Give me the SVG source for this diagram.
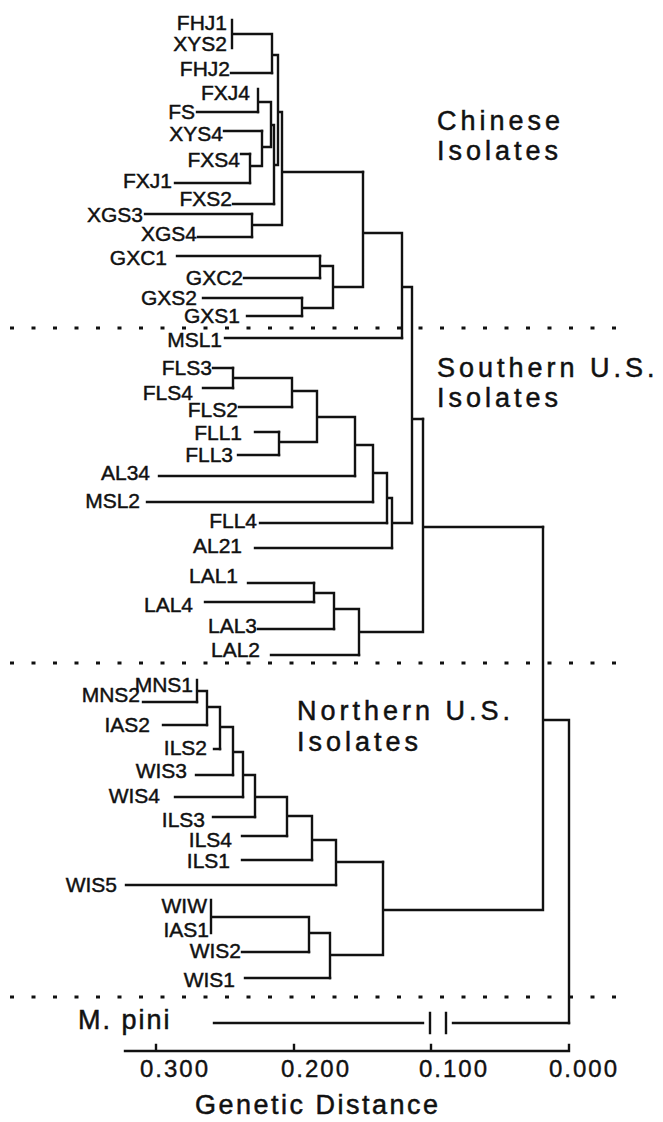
<svg xmlns="http://www.w3.org/2000/svg" width="663" height="1122" viewBox="0 0 663 1122">
<style>
.br{stroke:#111;stroke-width:2.4;fill:none;stroke-linecap:square}
.dot{stroke:#111;stroke-width:3;stroke-dasharray:4 17.5;fill:none}
.lbl{font-family:"Liberation Sans",Arial,sans-serif;font-size:21px;fill:#111;stroke:#111;stroke-width:0.45px;text-anchor:end}
.grp{font-family:"Liberation Sans",Arial,sans-serif;font-size:27px;fill:#111;stroke:#111;stroke-width:0.5px;letter-spacing:4px}
.ax{font-family:"Liberation Sans",Arial,sans-serif;font-size:24px;fill:#111;stroke:#111;stroke-width:0.4px;letter-spacing:2px}
</style>
<rect width="663" height="1122" fill="#fff"/>
<g id="separators">
<path class="dot" d="M10 328 H622 M10 663 H622 M10 997 H622"/>
</g>
<g id="connectors">
<path class="br" d="M231 73 H272 M197 112 H258 M224 131 H262 M241 154 H250 M175 183 H250 M233 204 H274 M145 214 H252 M198 237 H252 M177 256 H320 M244 278 H320 M203 298 H302 M247 316 H302 M225 338 H402"/>
<path class="br" d="M213 368 H233 M203 388 H233 M239 407 H292 M255 432 H279 M238 455 H279 M159 476 H355 M147 502 H373 M260 523 H387 M255 548 H392 M248 583 H314 M205 602 H314 M258 629 H334 M271 655 H359"/>
<path class="br" d="M143 702 H197 M163 725 H207 M214 749 H220 M196 775 H233 M175 797 H243 M213 817 H255 M242 836 H287 M242 860 H312 M126 885 H336 M242 952 H309 M245 978 H330"/>
<path class="br" d="M214 1023 H423 M453 1023 H569 M430 1013 V1033 M446 1013 V1033"/>
<path class="br" d="M232 20 V48 M232 34 H272 M272 34 V73 M272 55 H278 M258 89 V112 M258 102 H271 M250 154 V183 M250 166 H262 M262 131 V166 M262 147 H271 M271 102 V147 M271 125 H274 M274 125 V204 M274 165 H278 M278 55 V165 M278 112 H282 M252 214 V237 M252 225 H282 M282 112 V225 M282 172 H363"/>
<path class="br" d="M320 256 V278 M320 266 H333 M302 298 V316 M302 308 H333 M333 266 V308 M333 287 H363 M363 172 V287 M363 233 H402 M402 233 V338 M402 287 H412 M412 287 V523 M412 419 H423"/>
<path class="br" d="M233 368 V388 M233 378 H292 M292 378 V407 M292 391 H317 M279 432 V455 M279 442 H317 M317 391 V442 M317 417 H355 M355 417 V476 M355 445 H373 M373 445 V502 M373 473 H387 M387 473 V523 M387 498 H392 M392 498 V548 M392 523 H412"/>
<path class="br" d="M314 583 V602 M314 593 H334 M334 593 V629 M334 609 H359 M359 609 V655 M359 632 H423 M423 419 V632 M423 527 H543"/>
<path class="br" d="M197 680 V702 M197 691 H207 M207 691 V725 M207 707 H220 M220 707 V749 M220 727 H233 M233 727 V775 M233 752 H243 M243 752 V797 M243 775 H255 M255 775 V817 M255 797 H287 M287 797 V836 M287 816 H312 M312 816 V860 M312 840 H336 M336 840 V885 M336 862 H383"/>
<path class="br" d="M211 900 V933 M211 917 H309 M309 917 V952 M309 933 H330 M330 933 V978 M330 955 H383 M383 862 V955 M383 910 H543 M543 527 V910 M543 720 H569 M569 720 V1023"/>
</g>
<g id="leaves-chinese">
<g id="n-FHJ1"><text class="lbl" x="227" y="30">FHJ1</text></g>
<g id="n-XYS2"><text class="lbl" x="227" y="51">XYS2</text></g>
<g id="n-FHJ2"><text class="lbl" x="230" y="76">FHJ2</text></g>
<g id="n-FXJ4"><text class="lbl" x="250" y="100">FXJ4</text></g>
<g id="n-FS"><text class="lbl" x="195" y="119">FS</text></g>
<g id="n-XYS4"><text class="lbl" x="223" y="141">XYS4</text></g>
<g id="n-FXS4"><text class="lbl" x="240" y="167">FXS4</text></g>
<g id="n-FXJ1"><text class="lbl" x="172" y="188">FXJ1</text></g>
<g id="n-FXS2"><text class="lbl" x="232" y="206">FXS2</text></g>
<g id="n-XGS3"><text class="lbl" x="143" y="222">XGS3</text></g>
<g id="n-XGS4"><text class="lbl" x="197" y="241">XGS4</text></g>
<g id="n-GXC1"><text class="lbl" x="167" y="265">GXC1</text></g>
<g id="n-GXC2"><text class="lbl" x="243" y="285">GXC2</text></g>
<g id="n-GXS2"><text class="lbl" x="197" y="305">GXS2</text></g>
<g id="n-GXS1"><text class="lbl" x="240" y="323">GXS1</text></g>
</g>
<g id="leaves-southern">
<g id="n-MSL1"><text class="lbl" x="222" y="347">MSL1</text></g>
<g id="n-FLS3"><text class="lbl" x="212" y="375">FLS3</text></g>
<g id="n-FLS4"><text class="lbl" x="193" y="400">FLS4</text></g>
<g id="n-FLS2"><text class="lbl" x="238" y="417">FLS2</text></g>
<g id="n-FLL1"><text class="lbl" x="242" y="440">FLL1</text></g>
<g id="n-FLL3"><text class="lbl" x="233" y="462">FLL3</text></g>
<g id="n-AL34"><text class="lbl" x="150" y="480">AL34</text></g>
<g id="n-MSL2"><text class="lbl" x="140" y="508">MSL2</text></g>
<g id="n-FLL4"><text class="lbl" x="257" y="528">FLL4</text></g>
<g id="n-AL21"><text class="lbl" x="242" y="553">AL21</text></g>
<g id="n-LAL1"><text class="lbl" x="238" y="583">LAL1</text></g>
<g id="n-LAL4"><text class="lbl" x="193" y="612">LAL4</text></g>
<g id="n-LAL3"><text class="lbl" x="257" y="633">LAL3</text></g>
<g id="n-LAL2"><text class="lbl" x="260" y="657">LAL2</text></g>
</g>
<g id="leaves-northern">
<g id="n-MNS1"><text class="lbl" x="193" y="692">MNS1</text></g>
<g id="n-MNS2"><text class="lbl" x="140" y="702">MNS2</text></g>
<g id="n-IAS2"><text class="lbl" x="150" y="732">IAS2</text></g>
<g id="n-ILS2"><text class="lbl" x="207" y="755">ILS2</text></g>
<g id="n-WIS3"><text class="lbl" x="187" y="778">WIS3</text></g>
<g id="n-WIS4"><text class="lbl" x="160" y="803">WIS4</text></g>
<g id="n-ILS3"><text class="lbl" x="205" y="827">ILS3</text></g>
<g id="n-ILS4"><text class="lbl" x="232" y="847">ILS4</text></g>
<g id="n-ILS1"><text class="lbl" x="230" y="868">ILS1</text></g>
<g id="n-WIS5"><text class="lbl" x="117" y="892">WIS5</text></g>
<g id="n-WIW"><text class="lbl" x="207" y="913">WIW</text></g>
<g id="n-IAS1"><text class="lbl" x="209" y="937">IAS1</text></g>
<g id="n-WIS2"><text class="lbl" x="241" y="958">WIS2</text></g>
<g id="n-WIS1"><text class="lbl" x="235" y="987">WIS1</text></g>
</g>
<g id="n-Mpini"><text class="grp" style="letter-spacing:2px" x="78" y="1029">M. pini</text></g>
<g id="group-labels">
<text class="grp" x="437" y="130">Chinese<tspan x="437" y="160">Isolates</tspan></text>
<text class="grp" x="437" y="377">Southern U.S.<tspan x="437" y="407">Isolates</tspan></text>
<text class="grp" x="297" y="720">Northern U.S.<tspan x="297" y="751">Isolates</tspan></text>
</g>
<g id="axis">
<path class="br" d="M125 1051 H569 M156 1045 V1051 M294 1045 V1051 M431 1045 V1051 M569 1045 V1051"/>
<text class="ax" x="140" y="1077">0.300</text>
<text class="ax" x="281" y="1077">0.200</text>
<text class="ax" x="419" y="1077">0.100</text>
<text class="ax" x="549" y="1077">0.000</text>
<text class="grp" style="letter-spacing:2.5px" x="195" y="1114">Genetic Distance</text>
</g>
</svg>
